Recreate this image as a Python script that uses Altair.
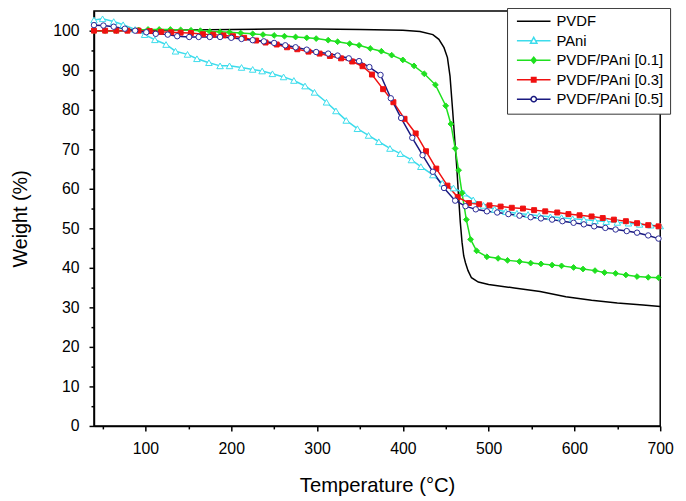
import altair as alt
import pandas as pd

SERIES = ["PVDF", "PAni", "PVDF/PAni [0.1]", "PVDF/PAni [0.3]", "PVDF/PAni [0.5]"]
COLORS = ["#000000", "#3cdcec", "#1fe01f", "#f01010", "#1a1a80"]
FILLS = ["white", "white", "#1fe01f", "#f01010", "white"]

# PVDF (line only)
T_pvdf = [40, 70, 100, 150, 200, 250, 300, 350, 400, 420, 435, 442, 448, 452, 455, 458, 461, 463,
          465, 467, 469, 471, 473, 476, 480, 488, 500, 530, 560, 590, 620, 650, 680, 700]
W_pvdf = [100, 100, 100.1, 100.2, 100.3, 100.4, 100.4, 100.3, 100.1, 99.8, 99.0, 97.8, 95.7, 93.2,
          88.5, 80, 71, 65, 58, 51.5, 46.5, 43, 41.3, 39.3, 37.5, 36.4, 35.8, 34.9, 34, 32.7, 31.8,
          31.1, 30.6, 30.2]

# PAni
T_pani = [40, 50, 63, 74, 88, 99, 111, 124, 135, 149, 160, 174, 187, 198, 212, 225, 236, 248, 261,
          273, 286, 297, 311, 322, 334, 347, 360, 372, 385, 397, 410, 421, 435, 446, 459, 471, 482,
          494, 507, 520, 533, 546, 559, 572, 585, 598, 611, 624, 637, 650, 663, 676, 689, 700]
W_pani = [102.7, 103, 102.3, 101.5, 100.3, 99, 97.7, 96.5, 94.8, 94, 92.9, 91.9, 91.1, 91.1, 90.7,
          90.2, 89.8, 89.1, 88.3, 87.4, 86, 84.4, 81.9, 79.7, 77.3, 75.2, 73.5, 71.9, 70.2, 68.9,
          67.3, 65.6, 63.5, 61.4, 60.2, 58.9, 57.2, 55.8, 54.8, 54.2, 53.8, 53.5, 53.2, 52.9, 52.7,
          52.4, 52.2, 51.9, 51.7, 51.5, 51.3, 51.0, 50.8, 50.6]

# PVDF/PAni [0.1]
T_01 = [40, 53, 66, 79, 92, 103, 116, 129, 141, 153, 164, 175, 187, 198, 211, 225, 237, 250, 262,
        275, 288, 299, 313, 324, 338, 349, 362, 375, 387, 400, 413, 425, 438, 450, 456, 461, 465,
        469, 474, 479, 486, 498, 511, 522, 536, 549, 561, 574, 585, 599, 610, 624, 635, 648, 660,
        673, 686, 698]
W_01 = [100, 100, 100, 100.1, 100.2, 100.3, 100.3, 100.3, 100.2, 100.1, 100, 99.8, 99.7, 99.6,
        99.4, 99.2, 99, 98.8, 98.6, 98.4, 98.2, 98, 97.6, 97.2, 96.7, 96.3, 95.5, 94.8, 93.8, 92.6,
        91.1, 89.1, 86.3, 81, 76.4, 70.2, 64.7, 58.9, 52.2, 47.2, 44.3, 42.8, 42.4, 41.9, 41.6,
        41.2, 41, 40.7, 40.5, 40.1, 39.7, 39.3, 38.8, 38.6, 38.2, 37.8, 37.6, 37.5]

# PVDF/PAni [0.3]
T_03 = [40, 53, 66, 79, 92, 105, 118, 130, 141, 153, 167, 179, 191, 202, 215, 229, 240, 253, 265,
        277, 290, 303, 315, 328, 341, 353, 364, 377, 389, 402, 415, 427, 439, 452, 464, 477, 489,
        501, 514, 527, 540, 553, 566, 580, 593, 606, 620, 633, 646, 660, 673, 686, 698]
W_03 = [100, 100, 100, 100, 100, 99.9, 99.7, 99.6, 99.5, 99.4, 99.1, 99, 98.8, 98.6, 98.2, 97.5,
        97, 96.5, 95.8, 95.3, 94.7, 94.2, 93.6, 93, 92.2, 91, 88.9, 85.2, 81.9, 77.7, 74, 69.5,
        65.1, 60.8, 57.9, 56.4, 56.1, 55.8, 55.5, 55.2, 55, 54.6, 54.3, 54, 53.6, 53.3, 53, 52.6,
        52.2, 51.8, 51.3, 50.8, 50.5]

# PVDF/PAni [0.5]
T_05 = [40, 51, 63, 76, 88, 101, 112, 126, 137, 151, 162, 175, 187, 200, 212, 225, 238, 250, 263,
        275, 288, 299, 313, 324, 337, 349, 361, 374, 386, 398, 411, 423, 435, 448, 461, 473, 485,
        498, 510, 523, 536, 549, 561, 574, 586, 599, 611, 623, 636, 648, 661, 673, 686, 698]
W_05 = [101.4, 101.3, 101, 100.5, 100, 99.6, 99.2, 99, 98.6, 98.4, 98.4, 98.4, 98.4, 98.2, 97.9,
        97.6, 97.3, 96.9, 96.3, 95.8, 95.2, 94.6, 94.2, 93.7, 93, 92.3, 90.8, 88.8, 82.9, 77.9,
        72.9, 68.5, 64.3, 60.2, 57, 55.6, 54.8, 54.3, 54, 53.6, 53.2, 52.8, 52.5, 52.2, 51.8, 51.4,
        51, 50.5, 50.1, 49.7, 49.3, 48.9, 48.2, 47.4]

X_TICKS = [50, 100, 150, 200, 250, 300, 350, 400, 450, 500, 550, 600, 650, 700]
Y_TICKS = [0, 5, 10, 15, 20, 25, 30, 35, 40, 45, 50, 55, 60, 65, 70, 75, 80, 85, 90, 95, 100]

rows = []
for name, ts, ws in [(SERIES[0], T_pvdf, W_pvdf), (SERIES[1], T_pani, W_pani),
                     (SERIES[2], T_01, W_01), (SERIES[3], T_03, W_03), (SERIES[4], T_05, W_05)]:
    for t, w in zip(ts, ws):
        rows.append({"series": name, "T": t, "W": w})
df = pd.DataFrame(rows)

FONT = "Liberation Sans"


def poly_circle(r, n=14):
    import math
    pts = [(r * math.cos(2 * math.pi * k / n), r * math.sin(2 * math.pi * k / n)) for k in range(n)]
    return "M" + "L".join(f"{x:.3f},{y:.3f}" for x, y in pts) + "Z"


# legend glyphs: line segment with marker (unit = 5 px)
PATHS = [
    "M-3.4,0H3.4",
    "M-3.4,0H-0.4M0.4,0H3.4M0,-0.7L0.65,0.5L-0.65,0.5Z",
    "M-3.4,0H3.4M0,-0.6L0.5,0L0,0.6L-0.5,0Z",
    "M-3.4,0H3.4M-0.45,-0.45H0.45V0.45H-0.45Z",
    "M-3.4,0H-0.55M0.55,0H3.4" + poly_circle(0.55),
]

x_axis = alt.Axis(
    values=X_TICKS,
    labelExpr="datum.value % 100 === 0 ? datum.label : ''",
    tickSize={"condition": {"test": "datum.value % 100 === 0", "value": 5}, "value": 3},
    grid=False, labelOverlap=False, labelFlush=False,
    domainColor="black", domainWidth=1.5, tickColor="black", tickWidth=1.5,
    labelFont=FONT, labelFontSize=16, labelColor="black", labelPadding=10,
    title="Temperature (°C)", titleFont=FONT, titleFontSize=20.5, titleFontWeight="normal",
    titleColor="black", titlePadding=19,
)
y_axis = alt.Axis(
    values=Y_TICKS,
    labelExpr="datum.value % 10 === 0 ? datum.label : ''",
    tickSize={"condition": {"test": "datum.value % 10 === 0", "value": 5}, "value": 3},
    grid=False, labelOverlap=False, labelFlush=False,
    domainColor="black", domainWidth=1.5, tickColor="black", tickWidth=1.5,
    labelFont=FONT, labelFontSize=16, labelColor="black", labelPadding=10,
    title="Weight (%)", titleFont=FONT, titleFontSize=20, titleFontWeight="normal",
    titleColor="black", titlePadding=23,
)

X = alt.X("T:Q", scale=alt.Scale(domain=[40, 700], nice=False, zero=False), axis=x_axis)
Y = alt.Y("W:Q", scale=alt.Scale(domain=[0, 105], nice=False, zero=False), axis=y_axis)
color_scale = alt.Scale(domain=SERIES, range=COLORS)

leg = alt.Legend(
    title=None, orient="none", legendX=418, legendY=-3, direction="vertical",
    symbolSize=100, symbolStrokeWidth=1.5, symbolOffset=13.5, symbolFillColor="white",
    symbolOpacity=1, labelOffset=15.5, labelFont=FONT, labelFontSize=15, labelColor="black",
    labelLimit=300, padding=6, rowPadding=3.7, strokeColor="#333333", fillColor="white",
)

lines = alt.Chart(df).mark_line(strokeWidth=1.5).encode(
    x=X, y=Y, color=alt.Color("series:N", scale=color_scale, legend=leg)
)

marker_specs = [
    (SERIES[1], "triangle-up", 44, "white", COLORS[1]),
    (SERIES[2], "diamond", 34, COLORS[2], COLORS[2]),
    (SERIES[3], "square", 25, COLORS[3], COLORS[3]),
    (SERIES[4], "circle", 30, "white", "#2a2a95"),
]
point_layers = []
for name, shp, sz, fill, stroke in marker_specs:
    point_layers.append(
        alt.Chart(df).transform_filter(alt.datum.series == name).mark_point(
            shape=shp, size=sz, filled=True, fill=fill, stroke=stroke, strokeWidth=1, opacity=1
        ).encode(x=X, y=Y)
    )

legend_layer = alt.Chart(df).transform_filter("false").mark_point(
    filled=False, opacity=1, strokeWidth=1.5, size=100
).encode(
    x=X, y=Y,
    color=alt.Color("series:N", scale=color_scale, legend=leg),
    fill=alt.Fill("series:N", scale=alt.Scale(domain=SERIES, range=FILLS), legend=leg),
    shape=alt.Shape("series:N", scale=alt.Scale(domain=SERIES, range=PATHS), legend=leg),
)

chart = alt.layer(legend_layer, lines, *point_layers).properties(
    width=573, height=420,
    padding={"left": 87, "top": 0, "right": 18, "bottom": 73},
    autosize=alt.AutoSizeParams(type="none"),
    background="white",
).configure_view(stroke="black", strokeWidth=1.5).configure_legend(
    labelFontSize=15, labelFont=FONT
)

chart.save("out.html", embed_options={"renderer": "svg", "actions": False})
